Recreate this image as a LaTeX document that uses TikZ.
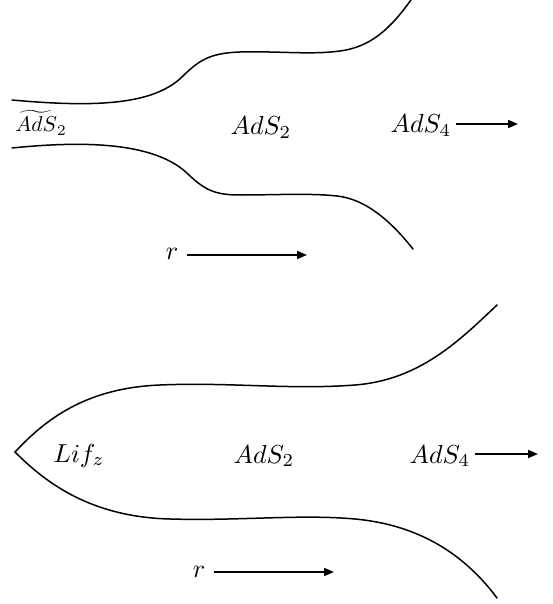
\documentclass[tikz,border=0pt]{standalone}
\usepackage{graphicx}
\usetikzlibrary{arrows.meta}
\newcommand{\lablarge}[1]{\scalebox{2.6}{$#1$}}
\newcommand{\labmid}[1]{\scalebox{2.15}{$#1$}}
\begin{document}
\begin{tikzpicture}[x=1pt,y=-1pt,
  wall/.style={line width=1.5pt,line cap=round},
  arr/.style={line width=1.8pt,-{Triangle[length=10pt,width=8pt]}},
  lab/.style={inner sep=0pt,anchor=base}]
\useasboundingbox (0,0) rectangle (553,604);
% ---------- top diagram ----------
\draw[wall] (12,100) .. controls (100,108) and (155,104) .. (183,76)
  .. controls (200,59) and (212,53) .. (240,52)
  .. controls (280,51) and (310,55) .. (340,51)
  .. controls (370,47) and (390,30) .. (413,-3);
\draw[wall] (12,148) .. controls (100,139) and (160,146) .. (189,175)
  .. controls (205,190) and (215,195) .. (240,195)
  .. controls (275,195) and (310,193) .. (337,196)
  .. controls (365,199) and (390,220) .. (413,249);
\node[lab] (t1) at (41,132) {\labmid{\widetilde{AdS}_2}};
\node[lab] (t2) at (261,135) {\lablarge{AdS_2}};
\node[lab] (t3) at (421,133) {\lablarge{AdS_4}};
\coordinate (t3e) at (518,124);
\draw[arr] ([xshift=4pt]t3.east |- t3e) -- (t3e);
\node[lab] (tr) at (172,259) {\lablarge{r}};
\coordinate (tre) at (307,255);
\draw[arr] ([xshift=9pt]tr.east |- tre) -- (tre);
% ---------- bottom diagram ----------
\draw[wall] (497,305) .. controls (460,340) and (420,380) .. (355,385)
  .. controls (290,390) and (230,382) .. (160,385)
  .. controls (85,388) and (45,420) .. (15,452)
  .. controls (45,482) and (90,517) .. (170,519)
  .. controls (240,521) and (300,514) .. (355,519)
  .. controls (420,525) and (465,555) .. (497,598);
\node[lab] (b1) at (79,462) {\lablarge{Lif_z}};
\node[lab] (b2) at (264,463) {\lablarge{AdS_2}};
\node[lab] (b3) at (440,463) {\lablarge{AdS_4}};
\coordinate (b3e) at (538,454);
\draw[arr] ([xshift=4pt]b3.east |- b3e) -- (b3e);
\node[lab] (br) at (199,577) {\lablarge{r}};
\coordinate (bre) at (334,572);
\draw[arr] ([xshift=9pt]br.east |- bre) -- (bre);
\end{tikzpicture}
\end{document}
